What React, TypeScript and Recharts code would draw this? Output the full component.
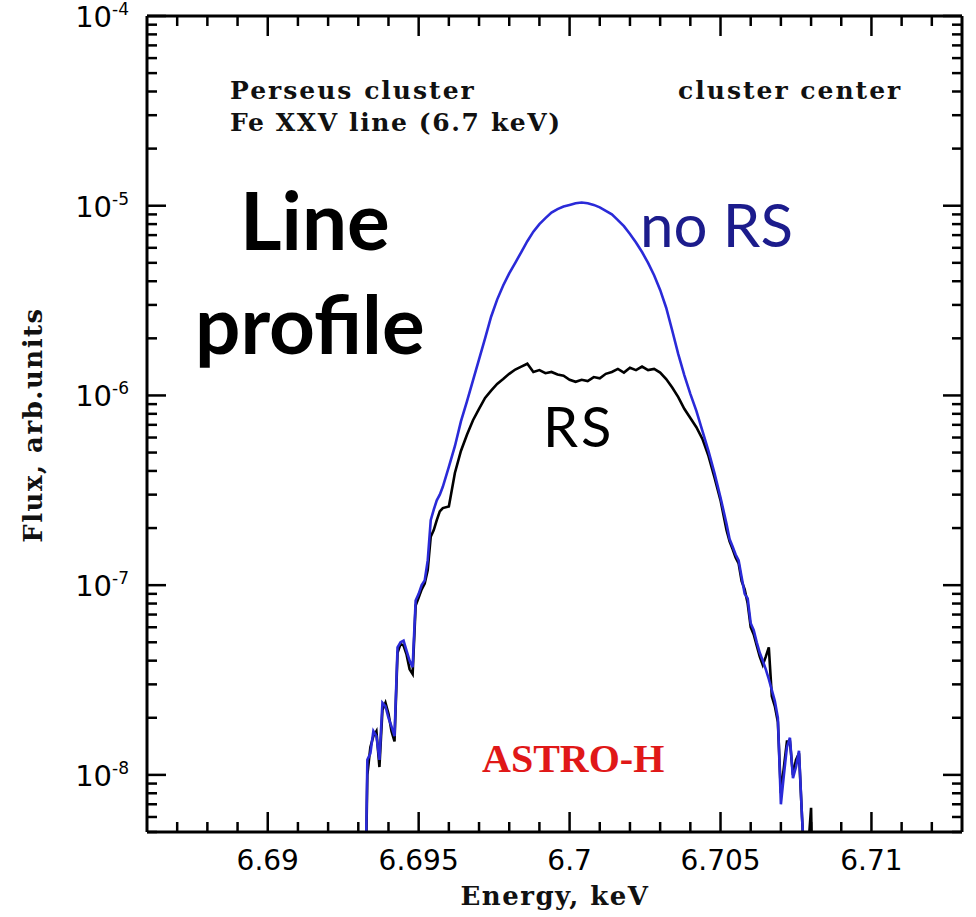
import React from "react";
import { LineChart, Line, XAxis, YAxis } from "recharts";

// energy grid, keV (finer in the wings where the spectrum is noisy)
const energies = [
  6.6931, 6.6932, 6.6933, 6.6934, 6.6935, 6.6936, 6.6937, 6.6938, 6.6939, 6.694,
  6.6941, 6.6942, 6.6943, 6.6944, 6.6945, 6.6946, 6.6947, 6.6948, 6.6949, 6.695,
  6.6951, 6.6952, 6.6953, 6.6954, 6.6955, 6.6956, 6.6957,
  6.6958, 6.696, 6.6962, 6.6964, 6.6966, 6.6968, 6.697, 6.6972, 6.6974, 6.6976,
  6.6978, 6.698, 6.6982, 6.6984, 6.6986, 6.6988, 6.699, 6.6992, 6.6994, 6.6996,
  6.6998, 6.7, 6.7002, 6.7004, 6.7006, 6.7008, 6.701, 6.7012, 6.7014, 6.7016,
  6.7018, 6.702, 6.7022, 6.7024, 6.7026, 6.7028, 6.703, 6.7032, 6.7034, 6.7036,
  6.7038, 6.704, 6.7042, 6.7044, 6.7046, 6.7048, 6.705, 6.7052,
  6.7053, 6.7054, 6.7055, 6.7056, 6.7057, 6.7058, 6.7059, 6.706, 6.7061, 6.7062,
  6.7063, 6.7064, 6.7065, 6.7066, 6.7067, 6.7068, 6.7069, 6.707, 6.7071, 6.7072,
  6.7073, 6.7074, 6.7075, 6.7076, 6.7077, 6.7078, 6.7079, 6.708, 6.7081, 6.7082,
];

// flux without resonant scattering (blue)
const noRsFlux = [
  1e-9, 1e-9, 1.2e-8, 1.3e-8, 1.7e-8, 1.6e-8, 1.2e-8, 2.4e-8, 2.3e-8, 2.0e-8,
  1.8e-8, 1.6e-8, 4.7e-8, 5.0e-8, 5.1e-8, 4.5e-8, 4.0e-8, 3.7e-8, 8.3e-8, 9.0e-8,
  1.0e-7, 1.06e-7, 1.35e-7, 2.2e-7, 2.5e-7, 2.8e-7, 3.0e-7,
  3.3e-7, 4.2e-7, 5.4e-7, 7.3e-7, 9.3e-7, 1.2e-6, 1.55e-6, 2.0e-6, 2.6e-6, 3.2e-6,
  3.8e-6, 4.4e-6, 5.0e-6, 5.7e-6, 6.5e-6, 7.3e-6, 8.0e-6, 8.6e-6, 9.2e-6, 9.6e-6,
  9.9e-6, 1.01e-5, 1.03e-5, 1.04e-5, 1.03e-5, 1.01e-5, 9.8e-6, 9.4e-6, 9.0e-6, 8.4e-6,
  7.8e-6, 7.1e-6, 6.4e-6, 5.7e-6, 5.0e-6, 4.3e-6, 3.6e-6, 2.9e-6, 2.2e-6, 1.65e-6,
  1.28e-6, 1.02e-6, 8.3e-7, 6.5e-7, 5.1e-7, 3.9e-7, 2.9e-7, 2.1e-7,
  1.75e-7, 1.6e-7, 1.45e-7, 1.35e-7, 1.1e-7, 9.0e-8, 8.5e-8, 6.3e-8, 5.8e-8, 5.0e-8,
  4.4e-8, 4.0e-8, 3.6e-8, 3.2e-8, 2.8e-8, 2.45e-8, 2.0e-8, 7e-9, 1.0e-8, 1.4e-8,
  1.57e-8, 9.6e-9, 1.1e-8, 1.34e-8, 6e-9, 3e-9, 1e-9, 1e-9, 1e-9, 1e-9,
];

// flux with resonant scattering (black)
const rsFlux = [
  1e-9, 1e-9, 1.0e-8, 1.4e-8, 1.6e-8, 1.7e-8, 1.1e-8, 2.2e-8, 2.4e-8, 2.1e-8,
  1.7e-8, 1.5e-8, 4.4e-8, 4.9e-8, 4.8e-8, 4.3e-8, 3.6e-8, 3.4e-8, 7.8e-8, 8.6e-8,
  9.5e-8, 1.02e-7, 1.2e-7, 1.8e-7, 1.95e-7, 2.2e-7, 2.45e-7,
  2.55e-7, 2.6e-7, 3.9e-7, 5.1e-7, 6.2e-7, 7.4e-7, 8.5e-7, 9.7e-7, 1.06e-6, 1.15e-6,
  1.22e-6, 1.3e-6, 1.37e-6, 1.42e-6, 1.47e-6, 1.33e-6, 1.36e-6, 1.31e-6, 1.33e-6, 1.29e-6,
  1.27e-6, 1.21e-6, 1.18e-6, 1.21e-6, 1.19e-6, 1.25e-6, 1.23e-6, 1.3e-6, 1.33e-6, 1.38e-6,
  1.32e-6, 1.4e-6, 1.36e-6, 1.42e-6, 1.36e-6, 1.38e-6, 1.32e-6, 1.22e-6, 1.1e-6, 9.8e-7,
  8.5e-7, 7.6e-7, 6.8e-7, 5.9e-7, 4.8e-7, 3.7e-7, 2.8e-7, 1.95e-7,
  1.7e-7, 1.55e-7, 1.4e-7, 1.3e-7, 1.05e-7, 9.5e-8, 8.0e-8, 6.0e-8, 5.5e-8, 4.8e-8,
  4.2e-8, 3.8e-8, 4.2e-8, 4.7e-8, 2.6e-8, 2.3e-8, 1.9e-8, 8e-9, 1.1e-8, 1.5e-8,
  1.5e-8, 1.0e-8, 1.2e-8, 1.3e-8, 6e-9, 3e-9, 4e-9, 6.7e-9, 1e-9, 1e-9,
];

const xMajorTicks = [6.69, 6.695, 6.7, 6.705, 6.71];
const xTickLabels = ["6.69", "6.695", "6.7", "6.705", "6.71"];
const yDecades = [1e-8, 1e-7, 1e-6, 1e-5, 1e-4];
const yExponents = ["-8", "-7", "-6", "-5", "-4"];

const X_DOMAIN = [6.686, 6.713];
const Y_DOMAIN = [5e-9, 1e-4];

// minor ticks every 0.001 keV, log minors 2..9 per decade
const xTicks: number[] = [];
for (let i = 6687; i <= 6712; i++) xTicks.push(i / 1000);
const yTicks: number[] = [];
for (let p = -9; p <= -5; p++) {
  for (let m = 1; m <= 9; m++) {
    const v = m * Math.pow(10, p);
    if (v >= 4.99e-9 && v <= 1.01e-4) yTicks.push(v);
  }
}
yTicks.push(1e-4);

const data = energies.map((e, i) => ({ e, noRs: noRsFlux[i], rs: rsFlux[i] }));

const isXMajor = (v: number) => Math.round(v * 10000) % 50 === 0;
const isYMajor = (v: number) => {
  const l = Math.log10(v);
  return Math.abs(l - Math.round(l)) < 1e-6;
};

const serif = "'DejaVu Serif', serif";
const sans = "'DejaVu Sans', sans-serif";
const hand = "Lato, sans-serif";

const XTickBottom = (props: any) => {
  const { x, y, payload } = props;
  const major = isXMajor(payload.value);
  const idx = xMajorTicks.findIndex((t) => Math.abs(t - payload.value) < 1e-7);
  return (
    <g>
      <line x1={x} x2={x} y1={y} y2={y - (major ? 20 : 10)} stroke="#000" strokeWidth={2.5} />
      {idx >= 0 && (
        <text x={x} y={y + 38} textAnchor="middle" fontFamily={sans} fontSize={28} fill="#000">
          {xTickLabels[idx]}
        </text>
      )}
    </g>
  );
};

const XTickTop = (props: any) => {
  const { x, y, payload } = props;
  const major = isXMajor(payload.value);
  return <line x1={x} x2={x} y1={y} y2={y + (major ? 20 : 10)} stroke="#000" strokeWidth={2.5} />;
};

const YTickLeft = (props: any) => {
  const { x, y, payload } = props;
  const major = isYMajor(payload.value);
  const idx = yDecades.findIndex((d) => Math.abs(Math.log10(d) - Math.log10(payload.value)) < 1e-6);
  return (
    <g>
      <line x1={x} x2={x + (major ? 19 : 10)} y1={y} y2={y} stroke="#000" strokeWidth={2.5} />
      {idx >= 0 && (
        <text x={x - 18} y={y + 11} textAnchor="end" fontFamily={sans} fontSize={29} fill="#000">
          10
          <tspan dy={-12} fontSize={17}>
            {yExponents[idx]}
          </tspan>
        </text>
      )}
    </g>
  );
};

const YTickRight = (props: any) => {
  const { x, y, payload } = props;
  const major = isYMajor(payload.value);
  return <line x1={x} x2={x - (major ? 19 : 10)} y1={y} y2={y} stroke="#000" strokeWidth={2.5} />;
};

const frame = { stroke: "#000", strokeWidth: 3 };

export default function App() {
  return (
    <div style={{ position: "absolute", left: 0, top: 0, width: 976, height: 917, background: "#fff" }}>
      <LineChart width={976} height={917} data={data} margin={{ top: 6, right: 4, bottom: 25, left: 47 }}>
        <XAxis
          xAxisId="b"
          type="number"
          dataKey="e"
          domain={X_DOMAIN}
          allowDataOverflow
          ticks={xTicks}
          interval={0}
          tick={(p: any) => <XTickBottom {...p} />}
          tickLine={false}
          tickSize={0}
          tickMargin={0}
          height={60}
          axisLine={frame}
        />
        <XAxis
          xAxisId="t"
          orientation="top"
          type="number"
          dataKey="e"
          domain={X_DOMAIN}
          allowDataOverflow
          ticks={xTicks}
          interval={0}
          tick={(p: any) => <XTickTop {...p} />}
          tickLine={false}
          tickSize={0}
          tickMargin={0}
          height={10}
          axisLine={frame}
        />
        <YAxis
          yAxisId="l"
          type="number"
          scale="log"
          domain={Y_DOMAIN}
          allowDataOverflow
          ticks={yTicks}
          interval={0}
          tick={(p: any) => <YTickLeft {...p} />}
          tickLine={false}
          tickSize={0}
          tickMargin={0}
          width={100}
          axisLine={frame}
        />
        <YAxis
          yAxisId="r"
          orientation="right"
          type="number"
          scale="log"
          domain={Y_DOMAIN}
          allowDataOverflow
          ticks={yTicks}
          interval={0}
          tick={(p: any) => <YTickRight {...p} />}
          tickLine={false}
          tickSize={0}
          tickMargin={0}
          width={10}
          axisLine={frame}
        />
        <Line
          xAxisId="b"
          yAxisId="l"
          type="linear"
          dataKey="rs"
          stroke="#000"
          strokeWidth={2.6}
          dot={false}
          isAnimationActive={false}
        />
        <Line
          xAxisId="b"
          yAxisId="l"
          type="linear"
          dataKey="noRs"
          stroke="#2a2ad8"
          strokeWidth={2.6}
          dot={false}
          isAnimationActive={false}
        />
      </LineChart>
      <svg width={976} height={917} style={{ position: "absolute", left: 0, top: 0, pointerEvents: "none" }}>
        <text x={230} y={99} fontFamily={serif} fontWeight="bold" fontSize={25} letterSpacing={2} fill="#111">
          Perseus cluster
        </text>
        <text x={230} y={131} fontFamily={serif} fontWeight="bold" fontSize={25} letterSpacing={1.6} fill="#111">
          Fe XXV line (6.7 keV)
        </text>
        <text x={678} y={99} fontFamily={serif} fontWeight="bold" fontSize={25} letterSpacing={2} fill="#111">
          cluster center
        </text>
        <text x={240} y={250} fontFamily={hand} fontWeight="bold" fontSize={80} fill="#000">
          Line
        </text>
        <text x={195} y={354} fontFamily={hand} fontWeight="bold" fontSize={80} fill="#000">
          profile
        </text>
        <text x={640} y={247} fontFamily={hand} fontSize={60} fill="#1c1c8c">
          no RS
        </text>
        <text x={543} y={447} fontFamily={hand} fontSize={56} letterSpacing={3} fill="#000">
          RS
        </text>
        <text x={482} y={772} fontFamily="'Liberation Serif', serif" fontWeight="bold" fontSize={40} fill="#e01818">
          ASTRO-H
        </text>
        <text x={555} y={905} textAnchor="middle" fontFamily={serif} fontWeight="bold" fontSize={26} letterSpacing={1.5} fill="#111">
          Energy, keV
        </text>
        <text
          x={42}
          y={425}
          transform="rotate(-90 42 425)"
          textAnchor="middle"
          fontFamily={serif}
          fontWeight="bold"
          fontSize={26}
          letterSpacing={1.5}
          fill="#111"
        >
          Flux, arb.units
        </text>
      </svg>
    </div>
  );
}
